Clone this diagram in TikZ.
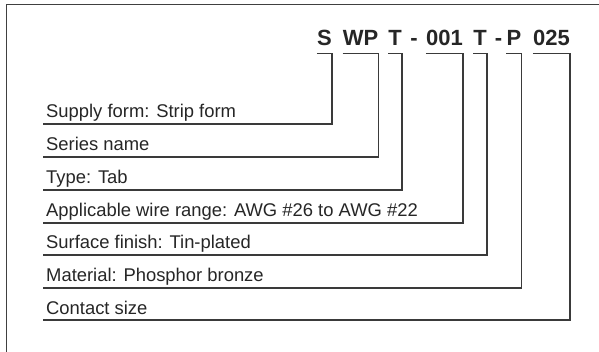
\documentclass[tikz,border=0pt]{standalone}
\usepackage{fontspec}
\setmainfont{Liberation Sans}
\begin{document}
\begin{tikzpicture}[x=1pt,y=-1pt,
  lbl/.style={anchor=base west,inner sep=0pt,text=txt,font=\fontsize{18.4}{20}\selectfont},
  code/.style={anchor=base,inner sep=0pt,text=txt,font=\fontsize{22}{24}\selectfont\bfseries},
  brk/.style={draw=ln,line width=1.3pt},
  frame/.style={draw=fr,line width=1.6pt}]
\definecolor{txt}{HTML}{262626}
\definecolor{ln}{HTML}{3A3A3A}
\definecolor{fr}{HTML}{404040}
\useasboundingbox (0,0) rectangle (599,352);
\clip (0,0) rectangle (599,352);
\fill[white] (0,0) rectangle (599,352);
% frame
\coordinate (fa) at (6.5,360);
\coordinate (fb) at (6.5,4.5);
\coordinate (fc) at (610,4.5);
\draw[frame] (fa) -- (fb) -- (fc);
% code parts
\node[code] (c1) at (324.5,45.5) {S};
\node[code] (c2) at (360.5,45.5) {WP};
\node[code] (c3) at (395,45.5) {T};
\node[code] (c4) at (414,45.5) {-};
\node[code] (c5) at (444.5,45.5) {001};
\node[code] (c6) at (480,45.5) {T};
\node[code] (c7) at (498.5,45.5) {-};
\node[code] (c8) at (514,45.5) {P};
\node[code] (c9) at (551.5,45.5) {025};
% labels
\node[lbl] (l1) at (46,118) {Supply form: Strip form};
\node[lbl] (l2) at (46,151) {Series name};
\node[lbl] (l3) at (46,184) {Type: Tab};
\node[lbl] (l4) at (46,217) {Applicable wire range: AWG \#26 to AWG \#22};
\node[lbl] (l5) at (46,249) {Surface finish: Tin-plated};
\node[lbl] (l6) at (46,282) {Material: Phosphor bronze};
\node[lbl] (l7) at (46,314) {Contact size};
% row line starts
\coordinate (r1) at (43,124);
\coordinate (r2) at (43,157);
\coordinate (r3) at (43,190);
\coordinate (r4) at (43,223);
\coordinate (r5) at (43,255);
\coordinate (r6) at (43,288);
\coordinate (r7) at (43,320);
% brackets
\draw[brk] ([yshift=-7.5pt]c1.south west) -- ([yshift=-7.5pt]c1.south east) |- (r1);
\draw[brk] ([yshift=-7.5pt]c2.south west) -- ([yshift=-7.5pt]c2.south east) |- (r2);
\draw[brk] ([yshift=-7.5pt]c3.south west) -- ([yshift=-7.5pt]c3.south east) |- (r3);
\draw[brk] ([yshift=-7.5pt]c5.south west) -- ([yshift=-7.5pt]c5.south east) |- (r4);
\draw[brk] ([yshift=-7.5pt]c6.south west) -- ([yshift=-7.5pt]c6.south east) |- (r5);
\draw[brk] ([yshift=-7.5pt]c8.south west) -- ([yshift=-7.5pt]c8.south east) |- (r6);
\draw[brk] ([yshift=-7.5pt]c9.south west) -- ([yshift=-7.5pt]c9.south east) |- (r7);
\end{tikzpicture}
\end{document}
